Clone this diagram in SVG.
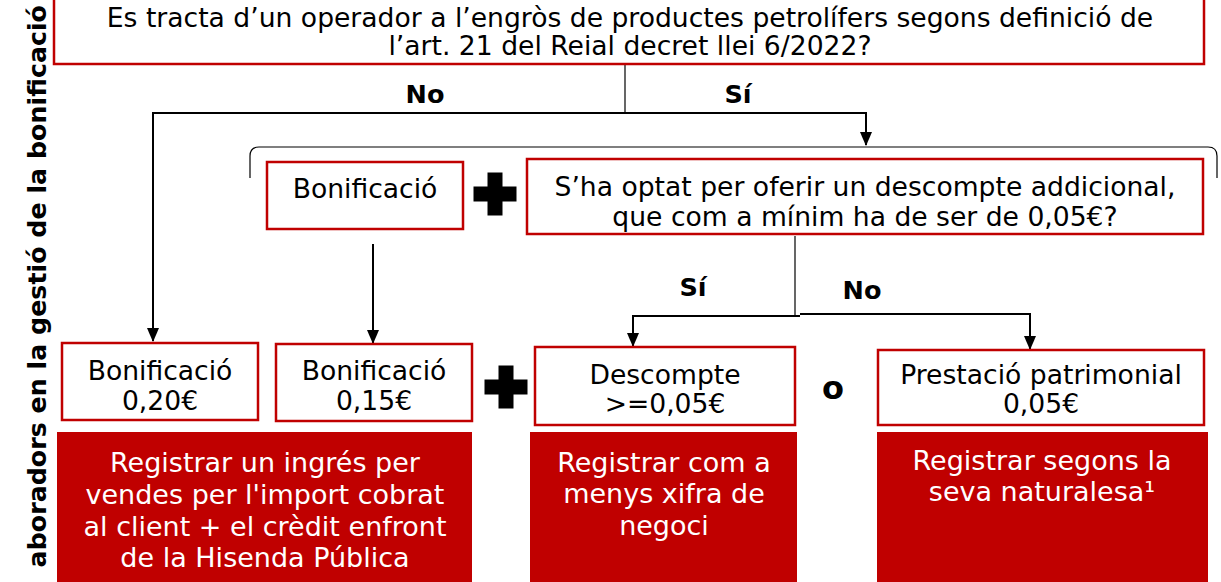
<svg xmlns="http://www.w3.org/2000/svg" width="1221" height="582" viewBox="0 0 1221 582">
<defs>
<style>
.box{fill:#fff;stroke:#c00000;stroke-width:2.5}
.red{fill:#c00000;stroke:none}
.t{font-family:"DejaVu Sans",Verdana,sans-serif;font-size:26.6px;fill:#000;text-anchor:middle}
.w{font-family:"DejaVu Sans",Verdana,sans-serif;font-size:27px;fill:#fff;text-anchor:middle}
.b{font-family:"DejaVu Sans",Verdana,sans-serif;font-size:25.5px;font-weight:bold;fill:#000;text-anchor:middle}
.ln{fill:none;stroke:#000;stroke-width:2}
.thin{fill:none;stroke:#000;stroke-width:1.2}
</style>
<marker id="ah" viewBox="0 0 14 12" refX="13" refY="6" markerWidth="14" markerHeight="12" markerUnits="userSpaceOnUse" orient="auto">
<path d="M0,0 L14,6 L0,12 Z" fill="#000"/>
</marker>
<path id="plus" d="M-7.5,-21.5 H7.5 V-7.5 H21.5 V7.5 H7.5 V21.5 H-7.5 V7.5 H-21.5 V-7.5 H-7.5 Z" fill="#000"/>
</defs>
<rect width="1221" height="582" fill="#fff"/>

<text class="b" transform="translate(46,5) rotate(-90)" style="text-anchor:end;font-size:25.3px">aboradors en la gestió de la bonificació</text>

<g id="connectors">
<path class="thin" d="M625,64 V113"/>
<path class="ln" d="M625,113 H153 V341" marker-end="url(#ah)"/>
<path class="ln" d="M625,113 H866 V145" marker-end="url(#ah)"/>
<path class="thin" d="M250,178 V156 Q250,147 259,147 H1208 Q1217,147 1217,156 V178"/>
<path class="ln" d="M373,244 V343" marker-end="url(#ah)"/>
<path class="thin" d="M795,236 V315"/>
<path class="ln" d="M800,316 H633 V346" marker-end="url(#ah)"/>
<path class="ln" d="M800,314 H1030 V349" marker-end="url(#ah)"/>
</g>

<g id="n-top">
<rect class="box" x="54" y="-3" width="1150" height="67"/>
<text class="t" x="630" y="27">Es tracta d’un operador a l’engròs de productes petrolífers segons definició de</text>
<text class="t" x="630" y="55">l’art. 21 del Reial decret llei 6/2022?</text>
</g>
<g id="lbl-no1"><text class="b" x="425" y="103">No</text></g>
<g id="lbl-si1"><text class="b" x="738" y="103">Sí</text></g>

<g id="n-bonif"><rect class="box" x="267" y="162" width="196" height="67"/>
<text class="t" x="365" y="198">Bonificació</text></g>
<g id="plus1"><use href="#plus" x="495" y="194"/></g>
<g id="n-question"><rect class="box" x="527" y="159" width="676" height="75"/>
<text class="t" x="865" y="196">S’ha optat per oferir un descompte addicional,</text>
<text class="t" x="865" y="226">que com a mínim ha de ser de 0,05€?</text></g>

<g id="lbl-si2"><text class="b" x="693" y="296">Sí</text></g>
<g id="lbl-no2"><text class="b" x="862" y="299">No</text></g>

<g id="n-b020"><rect class="box" x="62" y="343" width="196" height="77"/>
<text class="t" x="160" y="380">Bonificació</text><text class="t" x="160" y="410">0,20€</text></g>
<g id="n-b015"><rect class="box" x="276" y="344" width="196" height="77"/>
<text class="t" x="374" y="380">Bonificació</text><text class="t" x="374" y="410">0,15€</text></g>
<g id="plus2"><use href="#plus" x="506" y="387"/></g>
<g id="n-desc"><rect class="box" x="535" y="347" width="260" height="78"/>
<text class="t" x="665" y="384">Descompte</text><text class="t" x="665" y="413">&gt;=0,05€</text></g>
<g id="lbl-o"><text class="b" x="833" y="399" style="font-size:32px">o</text></g>
<g id="n-prest"><rect class="box" x="878" y="350" width="326" height="75"/>
<text class="t" x="1041" y="384">Prestació patrimonial</text><text class="t" x="1041" y="413">0,05€</text></g>

<g id="n-reg1"><rect class="red" x="57" y="432" width="415" height="160"/>
<text class="w" x="265" y="472">Registrar un ingrés per</text>
<text class="w" x="265" y="504">vendes per l'import cobrat</text>
<text class="w" x="265" y="536">al client + el crèdit enfront</text>
<text class="w" x="265" y="567">de la Hisenda Pública</text></g>
<g id="n-reg2"><rect class="red" x="530" y="432" width="267" height="160"/>
<text class="w" x="664" y="472">Registrar com a</text>
<text class="w" x="664" y="503">menys xifra de</text>
<text class="w" x="664" y="535">negoci</text></g>
<g id="n-reg3"><rect class="red" x="877" y="432" width="331" height="160"/>
<text class="w" x="1042" y="470">Registrar segons la</text>
<text class="w" x="1042" y="501">seva naturalesa¹</text></g>
</svg>
